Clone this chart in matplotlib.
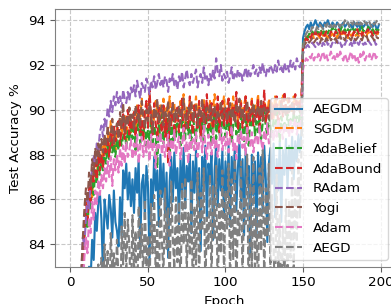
import matplotlib
matplotlib.use("Agg")
import matplotlib.pyplot as plt
import numpy as np

epochs = list(range(200))

sgdm = [42.3, 58.7, 66.1, 71.5, 75.2, 78.0, 80.4, 82.1, 83.6, 84.9,
        85.9, 84.8, 86.4, 86.9, 86.1, 87.3, 87.8, 87.0, 88.1, 87.6,
        88.4, 87.9, 88.6, 88.0, 88.9, 88.3, 89.5, 88.7, 88.9, 88.2,
        89.2, 88.8, 89.6, 88.9, 89.3, 89.8, 88.6, 89.4, 90.1, 89.0,
        89.5, 89.9, 88.9, 90.2, 89.4, 89.7, 90.5, 89.1, 89.8, 90.3,
        89.6, 90.7, 89.2, 90.0, 89.5, 90.4, 89.9, 88.8, 90.2, 89.7,
        90.5, 89.3, 90.1, 89.8, 90.6, 89.4, 89.9, 90.3, 88.9, 90.0,
        89.6, 90.4, 89.8, 90.7, 89.2, 90.1, 89.7, 90.5, 89.5, 90.2,
        89.9, 90.6, 89.4, 90.3, 89.1, 90.0, 90.5, 89.6, 90.2, 89.8,
        90.4, 89.3, 90.1, 90.7, 89.7, 90.0, 89.5, 90.3, 89.9, 90.6,
        89.6, 90.2, 90.5, 89.4, 90.1, 90.6, 89.8, 90.3, 89.5, 90.0,
        90.4, 89.7, 90.2, 90.6, 89.3, 90.1, 89.9, 90.5, 89.6, 90.3,
        90.0, 90.7, 89.5, 90.2, 89.8, 90.4, 90.1, 89.7, 90.5, 90.0,
        90.3, 89.6, 90.6, 90.1, 89.9, 90.4, 90.2, 90.7, 89.8, 90.3,
        90.5, 90.0, 90.3, 89.9, 90.6, 90.2, 90.4, 90.1, 90.5, 90.3,
        92.9, 93.1, 93.2, 93.3, 93.2, 93.3, 93.4, 93.2, 93.3, 93.4,
        93.3, 93.2, 93.4, 93.3, 93.5, 93.3, 93.2, 93.4, 93.3, 93.4,
        93.3, 93.4, 93.2, 93.4, 93.3, 93.5, 93.3, 93.4, 93.3, 93.2,
        93.4, 93.3, 93.4, 93.5, 93.3, 93.4, 93.3, 93.4, 93.5, 93.3,
        93.4, 93.3, 93.5, 93.4, 93.3, 93.4, 93.5, 93.3, 93.4, 93.4]

yogi = [44.1, 60.5, 68.0, 72.9, 76.4, 79.1, 81.0, 82.8, 84.3, 85.6,
        86.5, 85.9, 87.2, 86.6, 87.8, 87.1, 88.3, 87.6, 88.5, 87.9,
        88.7, 88.1, 88.9, 88.4, 89.3, 88.6, 88.9, 89.6, 88.5, 89.1,
        89.4, 88.7, 89.9, 89.2, 90.3, 89.0, 89.7, 89.3, 90.1, 89.5,
        89.8, 89.1, 90.2, 89.6, 89.9, 89.3, 90.4, 89.7, 89.2, 90.0,
        89.5, 90.3, 89.8, 89.0, 90.1, 89.6, 90.5, 89.4, 89.9, 90.2,
        89.3, 90.0, 89.7, 90.4, 89.1, 89.8, 90.3, 89.5, 90.0, 89.6,
        90.2, 89.4, 89.9, 90.5, 89.7, 89.2, 90.1, 89.8, 90.4, 89.5,
        89.9, 90.2, 89.3, 90.0, 89.7, 90.5, 89.4, 89.8, 90.1, 89.6,
        90.3, 89.5, 89.9, 90.2, 89.4, 90.0, 89.7, 90.4, 89.6, 89.9,
        90.1, 89.5, 89.8, 90.3, 89.6, 90.0, 89.4, 90.2, 89.9, 90.5,
        89.7, 90.1, 89.5, 89.9, 90.4, 89.6, 90.0, 89.8, 90.3, 89.5,
        89.9, 90.2, 89.7, 90.4, 89.5, 90.1, 89.8, 90.0, 89.6, 90.3,
        89.9, 90.1, 89.7, 90.2, 90.0, 89.8, 90.3, 89.9, 90.1, 89.7,
        90.2, 89.9, 90.0, 90.3, 89.8, 90.1, 90.0, 90.2, 89.9, 90.1,
        92.6, 92.9, 93.0, 93.1, 93.0, 93.1, 93.2, 93.0, 93.1, 93.2,
        93.1, 93.0, 93.2, 93.1, 93.0, 93.2, 93.1, 93.3, 93.1, 93.2,
        93.1, 93.2, 93.0, 93.2, 93.3, 93.1, 93.2, 93.1, 93.3, 93.2,
        93.2, 93.1, 93.3, 93.2, 93.1, 93.2, 93.3, 93.2, 93.1, 93.3,
        93.2, 93.3, 93.1, 93.2, 93.3, 93.2, 93.1, 93.3, 93.2, 93.2]

adabound = [40.5, 57.2, 65.3, 70.8, 74.6, 77.5, 79.9, 81.8, 83.2, 84.6,
            86.0, 85.1, 86.7, 85.9, 87.4, 86.8, 87.9, 86.9, 88.2, 87.3,
            88.0, 87.4, 88.6, 88.1, 88.8, 87.9, 89.0, 88.4, 89.3, 88.6,
            88.9, 89.5, 88.4, 89.2, 89.8, 88.7, 89.4, 90.0, 88.9, 89.6,
            89.1, 89.9, 88.8, 89.7, 90.2, 89.0, 89.5, 88.6, 89.9, 90.4,
            89.2, 90.9, 89.6, 88.9, 90.3, 89.4, 88.7, 90.1, 89.5, 89.0,
            90.2, 88.8, 89.6, 87.6, 89.9, 89.3, 90.4, 88.9, 89.7, 90.1,
            89.0, 89.8, 90.5, 88.7, 89.4, 90.0, 89.2, 90.6, 89.5, 88.9,
            90.2, 89.6, 89.1, 90.4, 88.8, 89.9, 90.3, 89.4, 90.7, 89.2,
            89.7, 90.3, 88.9, 90.1, 89.5, 90.6, 89.0, 89.8, 90.4, 89.3,
            90.0, 89.4, 90.5, 88.8, 89.9, 90.2, 89.6, 90.8, 89.1, 89.7,
            90.3, 89.2, 89.8, 90.6, 88.9, 90.1, 89.5, 90.4, 89.3, 90.0,
            89.6, 90.5, 89.0, 90.2, 89.7, 90.9, 89.4, 90.1, 89.8, 90.4,
            89.5, 90.2, 89.9, 90.6, 89.3, 90.0, 90.4, 89.7, 90.8, 90.1,
            89.8, 90.5, 90.0, 90.3, 89.9, 90.7, 90.2, 90.4, 90.0, 90.6,
            92.8, 93.0, 93.2, 93.1, 93.3, 93.2, 93.4, 93.3, 93.5, 93.3,
            93.4, 93.3, 93.5, 93.4, 93.3, 93.5, 93.4, 93.3, 93.5, 93.4,
            93.3, 93.5, 93.4, 93.6, 93.4, 93.3, 93.5, 93.4, 93.5, 93.3,
            93.5, 93.4, 93.3, 93.5, 93.4, 93.6, 93.4, 93.5, 93.3, 93.5,
            93.4, 93.5, 93.6, 93.4, 93.5, 93.3, 93.5, 93.4, 93.5, 93.4]

adabelief = [39.8, 56.4, 64.9, 70.2, 74.0, 77.1, 79.5, 81.3, 82.9, 84.2,
             85.4, 84.7, 86.1, 85.6, 86.8, 86.2, 87.3, 86.7, 87.6, 87.1,
             87.9, 87.3, 88.2, 87.6, 88.4, 87.8, 88.6, 88.1, 88.5, 87.9,
             88.7, 88.2, 89.0, 88.4, 88.8, 89.2, 88.3, 89.1, 88.6, 89.3,
             88.7, 89.4, 88.2, 89.0, 89.6, 88.5, 89.2, 88.8, 89.5, 88.4,
             89.1, 88.6, 89.7, 88.3, 89.3, 88.9, 87.4, 89.4, 88.7, 89.8,
             88.5, 89.2, 88.9, 89.6, 87.9, 89.3, 88.6, 89.9, 88.8, 89.4,
             89.0, 88.4, 89.7, 89.2, 88.7, 90.0, 88.9, 89.5, 88.3, 89.8,
             89.1, 88.6, 89.9, 89.3, 88.8, 89.6, 88.5, 90.1, 89.2, 88.9,
             89.7, 88.4, 89.4, 89.9, 88.7, 89.5, 89.0, 88.6, 89.8, 89.3,
             88.8, 89.6, 89.1, 90.0, 88.5, 89.4, 89.8, 88.9, 89.5, 88.7,
             89.9, 89.2, 88.6, 89.7, 89.0, 88.4, 89.6, 89.3, 90.2, 88.8,
             89.5, 89.0, 89.8, 88.7, 89.4, 90.1, 89.2, 88.9, 89.7, 89.3,
             88.8, 89.6, 89.1, 89.9, 89.4, 88.6, 89.7, 89.2, 89.5, 89.0,
             89.8, 89.3, 89.6, 89.1, 89.9, 89.4, 89.7, 89.2, 90.0, 89.5,
             92.9, 93.1, 93.3, 93.2, 93.4, 93.3, 93.5, 93.4, 93.3, 93.5,
             93.4, 93.6, 93.5, 93.4, 93.6, 93.5, 93.4, 93.6, 93.5, 93.7,
             93.5, 93.6, 93.4, 93.6, 93.5, 93.7, 93.5, 93.6, 93.4, 93.6,
             93.5, 93.6, 93.7, 93.5, 93.6, 93.4, 93.6, 93.5, 93.7, 93.5,
             93.6, 93.5, 93.7, 93.6, 93.5, 93.6, 93.4, 93.6, 93.5, 93.6]

radam = [48.2, 63.5, 70.8, 75.6, 79.0, 81.4, 82.2, 82.6, 84.3, 83.9,
         85.2, 86.0, 85.6, 86.9, 87.3, 88.0, 87.6, 88.5, 88.2, 89.0,
         89.3, 88.8, 89.6, 89.2, 90.1, 89.7, 90.4, 89.9, 90.6, 90.2,
         90.8, 90.3, 90.6, 90.1, 90.9, 90.5, 90.3, 90.8, 90.4, 91.0,
         90.7, 91.1, 90.6, 91.3, 90.9, 90.5, 91.2, 91.0, 90.8, 91.4,
         91.1, 90.7, 91.3, 91.0, 91.5, 90.9, 91.2, 91.6, 91.1, 91.4,
         91.0, 91.5, 91.3, 90.8, 91.4, 91.2, 91.6, 91.1, 91.3, 90.9,
         91.5, 91.2, 91.7, 91.0, 91.4, 91.8, 91.3, 91.1, 91.6, 91.2,
         91.5, 91.8, 91.0, 91.4, 91.6, 91.2, 91.9, 91.3, 91.5, 91.1,
         91.6, 91.3, 91.8, 91.4, 92.3, 91.7, 91.5, 92.0, 91.3, 91.6,
         91.4, 91.7, 91.2, 91.5, 91.9, 91.3, 91.6, 91.4, 91.8, 91.5,
         91.7, 91.3, 91.6, 91.9, 91.4, 91.8, 91.5, 91.7, 92.0, 91.6,
         91.8, 91.5, 91.9, 91.6, 92.1, 91.7, 91.5, 91.9, 91.7, 92.0,
         91.8, 91.6, 92.0, 91.7, 92.2, 91.8, 91.9, 91.6, 92.1, 91.8,
         92.0, 91.7, 92.2, 91.9, 92.1, 91.8, 92.3, 92.0, 91.9, 92.2,
         92.5, 92.7, 92.8, 92.9, 92.8, 92.9, 93.0, 92.9, 92.8, 93.0,
         92.9, 93.0, 92.8, 93.0, 92.9, 93.1, 92.9, 93.0, 92.8, 93.0,
         92.9, 93.0, 93.1, 92.9, 93.0, 92.8, 93.0, 92.9, 93.1, 93.0,
         92.9, 93.0, 92.8, 93.1, 92.9, 93.0, 92.9, 93.1, 93.0, 92.9,
         93.0, 92.9, 93.1, 93.0, 92.9, 93.0, 93.1, 92.9, 93.0, 93.0]

adam = [35.1, 52.8, 61.7, 67.3, 71.6, 75.0, 77.8, 80.1, 82.0, 83.4,
        84.3, 83.6, 85.2, 84.5, 85.9, 85.1, 86.4, 85.8, 86.9, 86.2,
        87.1, 86.5, 87.4, 86.8, 87.7, 87.0, 87.9, 86.6, 87.8, 87.3,
        88.0, 87.2, 88.3, 87.5, 88.4, 87.6, 88.6, 87.9, 88.2, 88.7,
        87.8, 88.5, 88.0, 88.9, 87.6, 88.4, 88.8, 87.9, 88.6, 88.1,
        88.7, 87.7, 88.9, 88.2, 88.5, 87.4, 88.8, 88.3, 89.0, 88.0,
        88.6, 87.9, 88.4, 88.9, 87.5, 88.7, 88.2, 89.1, 88.0, 88.5,
        88.8, 87.8, 88.4, 89.2, 88.1, 88.6, 87.6, 88.9, 88.3, 88.7,
        88.2, 89.0, 87.9, 88.5, 88.8, 88.1, 89.3, 88.4, 87.8, 88.9,
        88.5, 88.0, 89.1, 88.3, 88.7, 87.9, 88.6, 89.2, 88.2, 88.8,
        88.4, 89.0, 88.1, 88.7, 89.3, 88.2, 88.6, 87.8, 88.9, 88.5,
        89.1, 88.3, 88.8, 88.0, 89.2, 88.6, 88.4, 89.0, 88.1, 88.7,
        88.9, 88.4, 89.3, 88.6, 88.2, 89.0, 88.7, 89.4, 88.5, 88.8,
        89.1, 88.6, 89.3, 88.8, 89.5, 88.9, 89.2, 88.7, 89.4, 89.0,
        89.2, 88.8, 89.5, 89.0, 89.3, 89.6, 88.9, 89.4, 89.1, 89.7,
        91.8, 92.1, 92.3, 92.2, 92.4, 92.3, 92.5, 92.2, 92.4, 92.3,
        92.5, 92.2, 92.4, 92.6, 92.3, 92.5, 92.2, 92.4, 92.6, 92.3,
        92.4, 92.2, 92.5, 92.3, 92.6, 92.4, 92.2, 92.5, 92.3, 92.1,
        92.4, 92.6, 92.3, 92.5, 92.2, 92.4, 92.1, 92.5, 92.3, 92.6,
        92.2, 92.4, 92.3, 92.5, 92.2, 92.4, 92.6, 92.3, 92.4, 92.3]

aegdm = [30.2, 45.6, 55.1, 61.8, 67.0, 71.2, 74.5, 77.3, 79.4, 81.0,
         82.1, 81.5, 83.0, 82.4, 84.2, 83.3, 85.4, 84.6, 85.9, 86.3,
         85.1, 82.6, 86.0, 85.3, 84.7, 86.2, 85.6, 84.3, 86.4, 85.0,
         84.6, 83.9, 86.1, 84.4, 87.3, 86.5, 87.6, 86.0, 87.2, 85.7,
         86.9, 85.4, 87.4, 86.3, 87.8, 83.8, 86.7, 87.1, 85.2, 87.5,
         86.6, 83.2, 86.9, 85.7, 87.9, 86.4, 87.3, 84.8, 88.0, 86.1,
         87.6, 85.3, 87.2, 83.4, 86.8, 87.9, 85.9, 88.1, 86.5, 87.4,
         84.9, 87.8, 86.2, 88.3, 85.6, 87.5, 86.8, 88.0, 84.5, 87.7,
         86.3, 88.2, 85.8, 87.4, 83.7, 87.9, 86.6, 88.4, 85.1, 87.6,
         86.9, 88.1, 84.2, 87.3, 88.5, 85.7, 87.8, 86.4, 88.2, 85.3,
         87.7, 86.1, 88.4, 84.8, 87.9, 86.7, 88.3, 85.5, 87.4, 88.6,
         85.9, 87.8, 84.4, 88.2, 86.8, 87.5, 83.6, 88.0, 86.2, 87.7,
         84.3, 88.1, 86.5, 87.9, 85.4, 88.4, 86.9, 84.1, 87.6, 88.3,
         86.7, 88.5, 85.2, 87.8, 86.4, 88.6, 85.0, 88.2, 87.1, 88.7,
         86.5, 88.4, 87.3, 88.8, 86.9, 88.6, 87.7, 88.9, 88.1, 89.0,
         93.2, 93.5, 93.7, 93.8, 93.6, 93.9, 93.7, 93.8, 94.0, 93.8,
         93.7, 93.9, 93.8, 93.7, 93.9, 93.8, 94.0, 93.8, 93.7, 93.9,
         93.8, 93.7, 93.9, 93.8, 93.6, 93.8, 93.9, 93.7, 93.8, 93.9,
         93.7, 93.8, 93.6, 93.9, 93.8, 93.7, 93.9, 93.6, 93.8, 93.7,
         93.8, 93.9, 93.7, 93.6, 93.8, 93.7, 93.9, 93.7, 93.6, 93.8]

aegd = [25.3, 38.7, 48.2, 55.6, 61.3, 66.0, 69.8, 72.9, 75.5, 77.6,
        79.2, 78.4, 80.6, 79.8, 81.7, 80.9, 82.5, 81.3, 83.1, 82.0,
        83.4, 81.6, 84.0, 82.3, 83.7, 80.8, 84.5, 82.9, 83.6, 81.9,
        84.2, 82.5, 79.8, 84.8, 83.1, 85.4, 82.7, 85.1, 83.9, 81.4,
        85.3, 82.8, 84.6, 80.5, 85.7, 83.4, 84.9, 82.2, 86.0, 83.0,
        84.4, 81.7, 85.8, 83.6, 86.2, 82.4, 85.0, 80.9, 86.4, 84.1,
        82.6, 86.5, 83.8, 85.6, 81.8, 86.8, 84.3, 82.9, 86.1, 83.2,
        85.9, 81.5, 86.7, 84.0, 87.0, 82.7, 85.4, 83.5, 86.9, 80.8,
        85.7, 83.1, 87.2, 82.1, 86.3, 84.6, 87.4, 81.9, 85.2, 83.8,
        87.1, 82.4, 86.6, 84.2, 87.5, 81.3, 85.8, 83.6, 87.3, 82.8,
        86.4, 84.7, 87.6, 82.0, 86.9, 83.3, 87.8, 81.6, 85.5, 84.4,
        87.7, 82.3, 86.1, 84.9, 88.0, 80.6, 86.7, 83.0, 87.9, 82.5,
        85.6, 81.2, 87.4, 83.7, 88.2, 82.1, 86.5, 84.3, 87.6, 82.8,
        86.2, 83.9, 81.5, 87.1, 82.6, 85.3, 80.4, 84.8, 82.2, 86.0,
        81.7, 85.9, 83.4, 87.3, 82.9, 86.6, 84.1, 87.8, 85.2, 88.3,
        92.8, 93.2, 93.4, 93.5, 93.6, 93.5, 93.7, 93.6, 93.5, 93.7,
        93.6, 93.8, 93.7, 93.6, 93.8, 93.7, 93.9, 93.7, 93.8, 93.6,
        93.8, 93.7, 93.9, 93.8, 93.7, 93.9, 93.8, 94.0, 93.8, 93.9,
        93.7, 93.9, 93.8, 94.0, 93.8, 93.9, 93.7, 93.9, 93.8, 94.0,
        93.9, 93.8, 94.0, 93.9, 93.7, 93.9, 93.8, 93.9, 94.0, 93.8]

names = ["AEGDM", "SGDM", "AdaBelief", "AdaBound", "RAdam", "Yogi", "Adam", "AEGD"]
series = [aegdm, sgdm, adabelief, adabound, radam, yogi, adam, aegd]
colors = ["#1f77b4", "#ff7f0e", "#2ca02c", "#d62728", "#9467bd", "#8c564b", "#e377c2", "#7f7f7f"]
styles = ["-", "--", "--", "--", "--", "--", "--", "--"]

plt.rcParams['font.size'] = 9.7
fig = plt.figure(figsize=(3.91, 3.04), dpi=100)
ax = fig.add_axes([0.1407, 0.1227, 0.868, 0.8477])
for nm, ys, c, ls in zip(names, series, colors, styles):
    ax.plot(epochs, ys, color=c, linestyle=ls, linewidth=1.5, label=nm)

ax.set_ylim(83, 94.5)
ax.set_xticks([0, 50, 100, 150, 200])
ax.set_yticks([84, 86, 88, 90, 92, 94])
ax.grid(True, linestyle='--', color='#c8c8c8', linewidth=0.8)
for s in ax.spines.values():
    s.set_color('#808080')
ax.tick_params(color='#606060')
ax.set_xlabel("Epoch")
ax.set_ylabel("Test Accuracy %")
ax.legend(loc='lower right')
fig.savefig("out.png", dpi=100)
